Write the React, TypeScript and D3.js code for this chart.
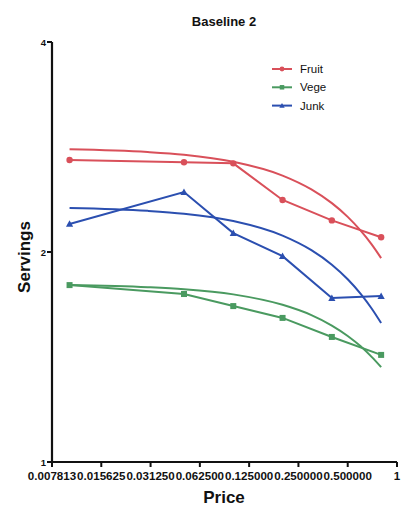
import React from "react";
import * as d3 from "d3";

const prices = [0.01, 0.05, 0.1, 0.2, 0.4, 0.8];
const fruit = [2.71, 2.69, 2.68, 2.375, 2.22, 2.1];
const vege = [1.793, 1.741, 1.673, 1.609, 1.511, 1.424];
const junk = [2.194, 2.438, 2.129, 1.973, 1.718, 1.729];

const fitPrices = [0.01, 0.03, 0.05, 0.1, 0.2, 0.3, 0.4, 0.5, 0.6, 0.7, 0.8];
const fruitFit = [2.807, 2.782, 2.757, 2.694, 2.574, 2.459, 2.35, 2.246, 2.146, 2.051, 1.96];
const vegeFit = [1.794, 1.781, 1.769, 1.739, 1.68, 1.624, 1.569, 1.516, 1.465, 1.415, 1.368];
const junkFit = [2.313, 2.291, 2.269, 2.215, 2.111, 2.012, 1.918, 1.828, 1.742, 1.66, 1.582];

const xTicks = [0.0078125, 0.015625, 0.03125, 0.0625, 0.125, 0.25, 0.5, 1];
const xTickLabels = ["0.007813", "0.015625", "0.031250", "0.062500", "0.125000", "0.250000", "0.500000", "1"];
const yTicks = [1, 2, 4];
const yTickLabels = ["1", "2", "4"];

const seriesNames = ["Fruit", "Vege", "Junk"];
const colors = ["#d9505a", "#4a9a60", "#2b4fb0"];
const markers = ["circle", "square", "triangle"];

const W = 408;
const H = 506;
const FONT = "'Liberation Sans', Arial, sans-serif";

function Marker({ type, x, y, color, k = 1 }: { type: string; x: number; y: number; color: string; k?: number }) {
  if (type === "circle") return <circle cx={x} cy={y} r={3.2 * k} fill={color} />;
  if (type === "square") return <rect x={x - 3 * k} y={y - 3 * k} width={6 * k} height={6 * k} fill={color} />;
  const s = 3.6 * k;
  return <path d={`M${x},${y - s}L${x + s},${y + s * 0.8}L${x - s},${y + s * 0.8}Z`} fill={color} />;
}

export default function App() {
  const x = d3.scaleLog().base(2).domain([0.0078125, 1]).range([52, 397]);
  const y = d3.scaleLog().base(2).domain([1, 4]).range([462, 42]);
  const data = [fruit, vege, junk];
  const fits = [fruitFit, vegeFit, junkFit];

  const lineGen = d3
    .line<[number, number]>()
    .x((d) => x(d[0]))
    .y((d) => y(d[1]));
  const fitGen = d3
    .line<[number, number]>()
    .x((d) => x(d[0]))
    .y((d) => y(d[1]))
    .curve(d3.curveMonotoneX);

  return (
    <svg width={W} height={H} style={{ display: "block", position: "absolute", left: 0, top: 0 }}>
      <rect width={W} height={H} fill="#ffffff" />
      <text x={224} y={26} textAnchor="middle" fontFamily={FONT} fontWeight="bold" fontSize={13} fill="#111">
        Baseline 2
      </text>

      {fits.map((f, i) => (
        <path
          key={"fit" + i}
          d={fitGen(fitPrices.map((p, j) => [p, f[j]] as [number, number])) || ""}
          fill="none"
          stroke={colors[i]}
          strokeWidth={2}
        />
      ))}
      {data.map((s, i) => (
        <g key={"s" + i}>
          <path
            d={lineGen(prices.map((p, j) => [p, s[j]] as [number, number])) || ""}
            fill="none"
            stroke={colors[i]}
            strokeWidth={2}
          />
          {prices.map((p, j) => (
            <Marker key={j} type={markers[i]} x={x(p)} y={y(s[j])} color={colors[i]} />
          ))}
        </g>
      ))}

      {/* axes */}
      <line x1={52} x2={52} y1={y(4)} y2={y(1) + 1} stroke="#111" strokeWidth={2.2} />
      <line x1={51} x2={397} y1={462} y2={462} stroke="#111" strokeWidth={2.2} />
      {yTicks.map((t, i) => (
        <g key={"yt" + i}>
          <line x1={47} x2={52} y1={y(t)} y2={y(t)} stroke="#111" strokeWidth={2} />
          <text x={46} y={y(t) + 3.5} textAnchor="end" fontFamily={FONT} fontWeight="bold" fontSize={9.5} fill="#111">
            {yTickLabels[i]}
          </text>
        </g>
      ))}
      {xTicks.map((t, i) => (
        <g key={"xt" + i}>
          <line x1={x(t)} x2={x(t)} y1={462} y2={467} stroke="#111" strokeWidth={2} />
          <text x={x(t)} y={480} textAnchor="middle" fontFamily={FONT} fontWeight="bold" fontSize={11.6} fill="#111">
            {xTickLabels[i]}
          </text>
        </g>
      ))}

      <text x={224} y={503} textAnchor="middle" fontFamily={FONT} fontWeight="bold" fontSize={17} fill="#111">
        Price
      </text>
      <text
        transform={`translate(30,257) rotate(-90)`}
        textAnchor="middle"
        fontFamily={FONT}
        fontWeight="bold"
        fontSize={17}
        fill="#111"
      >
        Servings
      </text>

      {/* legend */}
      {seriesNames.map((n, i) => {
        const ly = 69 + i * 18.3;
        return (
          <g key={"lg" + i}>
            <line x1={272} x2={292} y1={ly} y2={ly} stroke={colors[i]} strokeWidth={2} />
            <Marker type={markers[i]} x={282} y={ly} color={colors[i]} k={0.75} />
            <text x={300} y={ly + 4} fontFamily={FONT} fontSize={11.5} fill="#111">
              {n}
            </text>
          </g>
        );
      })}
    </svg>
  );
}
